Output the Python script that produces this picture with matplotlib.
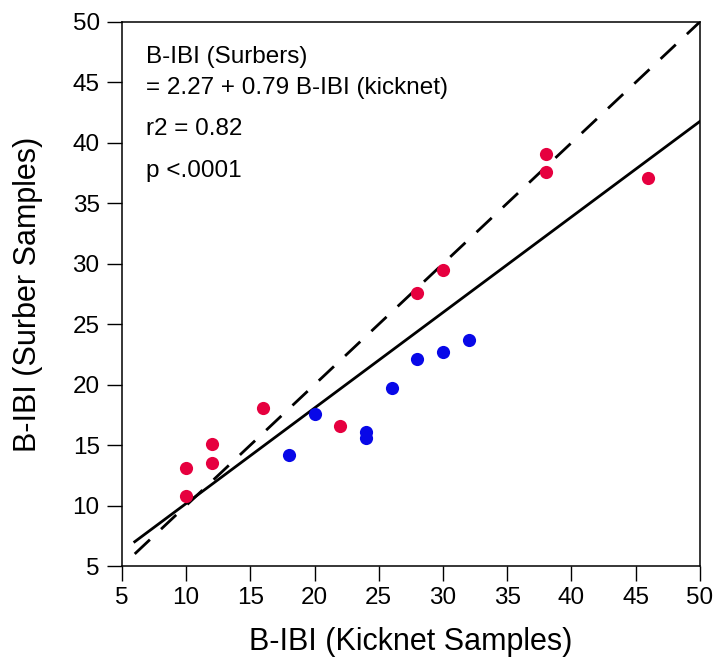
import numpy as np
import matplotlib
matplotlib.use("Agg")
import matplotlib.pyplot as plt

plt.rcParams['font.family'] = ['Liberation Sans', 'DejaVu Sans']

# red points
red_x = [10, 10, 12, 12, 16, 22, 28, 30, 38, 38, 46]
red_y = [13.1, 10.8, 15.1, 13.5, 18.1, 16.6, 27.6, 29.5, 39.1, 37.6, 37.1]

# blue points
blue_x = [18, 20, 24, 24, 26, 28, 30, 32]
blue_y = [14.2, 17.6, 16.1, 15.6, 19.7, 22.1, 22.7, 23.7]

intercept = 2.27
slope = 0.79
line_x = [6, 50]

ticks = [5, 10, 15, 20, 25, 30, 35, 40, 45, 50]

fig = plt.figure(figsize=(7.17, 6.6), dpi=100)
ax = fig.add_axes([0.170, 0.1424, 0.806, 0.8243])

# regression line and 1:1 line
lx = np.array(line_x)
ax.plot(lx, intercept + slope * lx, color='black', lw=2.0)
ax.plot(lx, lx, color='black', lw=2.0, dashes=(7.5, 5.5))

ax.scatter(red_x, red_y, s=90, color='#e6003f', zorder=3, linewidths=0)
ax.scatter(blue_x, blue_y, s=90, color='#0808e8', zorder=3, linewidths=0)

ax.set_xlim(5, 50)
ax.set_ylim(5, 50)
ax.set_xticks(ticks)
ax.set_yticks(ticks)
ax.tick_params(direction='out', length=11, width=1, labelsize=17.5)
ax.tick_params(axis='x', pad=4)
ax.tick_params(axis='y', pad=5)
for s in ax.spines.values():
    s.set_linewidth(1.1)

ax.set_xlabel('B-IBI (Kicknet Samples)', fontsize=22, labelpad=13)
ax.set_ylabel('B-IBI (Surber Samples)', fontsize=22, labelpad=21)

fs = 17.5
ax.text(0.042, 0.9246, 'B-IBI (Surbers)', transform=ax.transAxes,
        fontsize=fs, va='baseline', ha='left')
ax.text(0.042, 0.8676, '= 2.27 + 0.79 B-IBI (kicknet)', transform=ax.transAxes,
        fontsize=fs, va='baseline', ha='left')
ax.text(0.042, 0.7923, 'r2 = 0.82', transform=ax.transAxes,
        fontsize=fs, va='baseline', ha='left')
ax.text(0.042, 0.715, 'p <.0001', transform=ax.transAxes,
        fontsize=fs, va='baseline', ha='left')

fig.savefig('out.png', dpi=100)
